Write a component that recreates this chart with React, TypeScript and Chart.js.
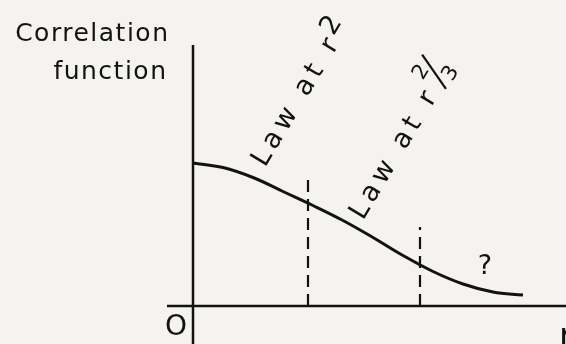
import React, { useEffect, useRef } from "react";
import { Chart, registerables } from "chart.js";

Chart.register(...registerables);

// Curve: correlation function vs r (arbitrary units)
const CURVE_R = [0, 0.3, 0.6, 0.9, 1.2, 1.5, 1.8, 2.1, 2.4, 2.7, 3.0, 3.3];
const CURVE_V = [1.43, 1.385, 1.285, 1.145, 1.005, 0.855, 0.685, 0.505, 0.345, 0.22, 0.14, 0.11];

// Dashed separators between regimes
const DASH_R = [1.15, 2.27];
const DASH_TOP = [1.29, 0.79];

// Axes extents
const Y_AXIS_RANGE = [-0.5, 2.61];
const X_AXIS_RANGE = [-0.26, 3.8];

// Texts
const Y_TITLE = ["Correlation", "function"];
const LABEL_1 = "Law at r";
const LABEL_1_EXP = "2";
const LABEL_2 = "Law at r";
const LABEL_2_EXP = ["2", "3"];
const ORIGIN_LABEL = "O";
const X_TITLE = "r";
const QUESTION = "?";

const INK = "#121212";
const BG = "#f4f3ef";
const FONT = '"DejaVu Sans", sans-serif';

export default function App() {
  const ref = useRef<HTMLCanvasElement | null>(null);

  useEffect(() => {
    const canvas = ref.current;
    if (!canvas) return;

    const pts = (rs: number[], vs: number[]) => rs.map((r, i) => ({ x: r, y: vs[i] }));

    const bgPlugin = {
      id: "bg",
      beforeDraw(chart: any) {
        const ctx = chart.ctx;
        ctx.save();
        ctx.fillStyle = BG;
        ctx.fillRect(0, 0, chart.width, chart.height);
        ctx.restore();
      },
    };

    const textPlugin = {
      id: "texts",
      afterDatasetsDraw(chart: any) {
        const ctx: CanvasRenderingContext2D = chart.ctx;
        const xs = chart.scales.x;
        const ys = chart.scales.y;
        const px = (r: number) => xs.getPixelForValue(r);
        const py = (v: number) => ys.getPixelForValue(v);
        ctx.save();
        ctx.fillStyle = INK;
        ctx.strokeStyle = INK;

        // Y title (right aligned, left of y axis)
        ctx.font = `25px ${FONT}`;
        (ctx as any).letterSpacing = "1.5px";
        ctx.textAlign = "right";
        ctx.textBaseline = "alphabetic";
        ctx.fillText(Y_TITLE[0], px(-0.235), py(2.65));
        ctx.fillText(Y_TITLE[1], px(-0.255), py(2.27));

        // Origin and axis label
        (ctx as any).letterSpacing = "0px";
        ctx.font = `28px ${FONT}`;
        ctx.textAlign = "center";
        ctx.fillText(ORIGIN_LABEL, px(-0.17), py(-0.29));
        ctx.font = `34px ${FONT}`;
        ctx.textAlign = "left";
        ctx.fillText(X_TITLE, px(3.66), py(-0.41));

        // Question mark
        ctx.font = `27px ${FONT}`;
        ctx.textAlign = "center";
        ctx.fillText(QUESTION, px(2.92), py(0.32));

        const ang = (-59 * Math.PI) / 180;

        // Label 1 : Law at r^2
        ctx.save();
        ctx.translate(px(0.72), py(1.38));
        ctx.rotate(ang);
        ctx.textAlign = "left";
        ctx.font = `27px ${FONT}`;
        (ctx as any).letterSpacing = "5px";
        ctx.fillText(LABEL_1, 0, 0);
        const w1 = ctx.measureText(LABEL_1).width;
        ctx.fillText(LABEL_1_EXP, w1 - 1, -9);
        ctx.restore();

        // Label 2 : Law at r^(2/3)
        ctx.save();
        ctx.translate(px(1.7), py(0.85));
        ctx.rotate(ang);
        ctx.textAlign = "left";
        ctx.font = `27px ${FONT}`;
        (ctx as any).letterSpacing = "5px";
        ctx.fillText(LABEL_2, 0, 0);
        const w2 = ctx.measureText(LABEL_2).width;
        (ctx as any).letterSpacing = "0px";
        ctx.font = `21px ${FONT}`;
        const fx = w2 + 2;
        ctx.fillText(LABEL_2_EXP[0], fx, -21);
        ctx.lineWidth = 2.2;
        ctx.beginPath();
        ctx.moveTo(fx + 5, 3);
        ctx.lineTo(fx + 22, -35);
        ctx.stroke();
        ctx.fillText(LABEL_2_EXP[1], fx + 14, 5);
        ctx.restore();

        ctx.restore();
      },
    };

    const chart = new Chart(canvas, {
      type: "line",
      data: {
        datasets: [
          {
            label: "curve",
            data: pts(CURVE_R, CURVE_V),
            borderColor: INK,
            borderWidth: 3,
            pointRadius: 0,
            tension: 0.4,
            fill: false,
          },
          {
            label: "y axis",
            data: [
              { x: 0, y: Y_AXIS_RANGE[0] },
              { x: 0, y: Y_AXIS_RANGE[1] },
            ],
            borderColor: INK,
            borderWidth: 2.5,
            pointRadius: 0,
          },
          {
            label: "x axis",
            data: [
              { x: X_AXIS_RANGE[0], y: 0 },
              { x: X_AXIS_RANGE[1], y: 0 },
            ],
            borderColor: INK,
            borderWidth: 2.5,
            pointRadius: 0,
          },
          ...DASH_R.map((r, i) => ({
            label: `dash ${i + 1}`,
            data: [
              { x: r, y: 0 },
              { x: r, y: DASH_TOP[i] },
            ],
            borderColor: INK,
            borderWidth: 2.2,
            borderDash: [12, 7],
            pointRadius: 0,
          })),
        ] as any,
      },
      options: {
        animation: false,
        responsive: false,
        maintainAspectRatio: false,
        layout: { padding: 0 },
        plugins: { legend: { display: false }, tooltip: { enabled: false } },
        scales: {
          x: { type: "linear", min: -1.93, max: 3.73, display: false },
          y: { type: "linear", min: -0.38, max: 3.06, display: false },
        },
      },
      plugins: [bgPlugin, textPlugin],
    });
    return () => chart.destroy();
  }, []);

  return (
    <div style={{ position: "absolute", left: 0, top: 0, width: 566, height: 344, overflow: "hidden" }}>
      <canvas ref={ref} width={566} height={344} style={{ display: "block", width: 566, height: 344 }} />
    </div>
  );
}
